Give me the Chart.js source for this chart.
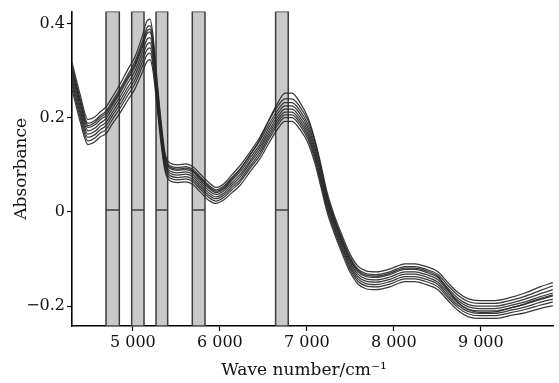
<!DOCTYPE html>
<html>
<head>
<meta charset="utf-8">
<script src="https://cdn.jsdelivr.net/npm/chart.js@4.4.1/dist/chart.umd.min.js"></script>
<style>
  html, body { margin: 0; padding: 0; background: #ffffff; }
  #c { display: block; }
</style>
</head>
<body>
<canvas id="c" width="559" height="383"></canvas>
<script>
// ---- data ----
const waveNumbers = [4300,4392,4484,4564,4622,4691,4771,4852,4944,5024,5105,5162,5197,5231,5277,5323,5369,5426,5518,5610,5691,5771,5863,5955,6047,6139,6231,6346,6461,6576,6668,6748,6829,6921,7013,7093,7151,7231,7311,7403,7495,7587,7679,7794,7955,8127,8242,8357,8507,8622,8737,8852,8990,9162,9334,9507,9679,9828];

const spectrum1 = [.260,.193,.143,.149,.159,.166,.189,.210,.238,.261,.295,.319,.323,.299,.225,.146,.087,.066,.062,.064,.058,.043,.026,.018,.026,.041,.056,.085,.113,.150,.177,.192,.192,.175,.146,.103,.061,.001,-.043,-.087,-.127,-.153,-.163,-.165,-.159,-.148,-.148,-.153,-.165,-.188,-.209,-.222,-.226,-.226,-.220,-.214,-.205,-.199];
const spectrum2 = [.269,.202,.151,.157,.167,.175,.198,.220,.248,.272,.307,.333,.337,.311,.234,.154,.093,.072,.068,.070,.064,.049,.032,.023,.031,.047,.063,.092,.120,.158,.185,.200,.200,.183,.154,.111,.069,.008,-.037,-.081,-.121,-.147,-.157,-.159,-.153,-.142,-.142,-.147,-.159,-.182,-.203,-.216,-.220,-.220,-.214,-.207,-.198,-.191];
const spectrum3 = [.277,.210,.158,.164,.174,.183,.206,.228,.257,.281,.317,.344,.348,.321,.242,.160,.098,.077,.073,.075,.069,.054,.037,.028,.036,.052,.068,.097,.126,.164,.191,.206,.206,.189,.160,.117,.075,.013,-.032,-.076,-.116,-.142,-.152,-.154,-.148,-.137,-.137,-.142,-.154,-.177,-.198,-.211,-.215,-.215,-.209,-.202,-.192,-.185];
const spectrum4 = [.284,.217,.165,.171,.181,.190,.213,.236,.265,.290,.327,.355,.359,.331,.249,.166,.103,.082,.078,.080,.074,.059,.042,.032,.040,.057,.074,.103,.132,.170,.197,.212,.212,.195,.166,.123,.081,.019,-.027,-.071,-.111,-.137,-.147,-.149,-.143,-.132,-.132,-.137,-.149,-.172,-.193,-.206,-.210,-.210,-.204,-.196,-.186,-.178];
const spectrum5 = [.292,.225,.172,.178,.188,.198,.221,.244,.274,.299,.337,.366,.370,.341,.257,.172,.108,.087,.083,.085,.079,.064,.047,.037,.045,.062,.079,.108,.138,.176,.203,.218,.218,.201,.172,.129,.087,.024,-.022,-.066,-.106,-.132,-.142,-.144,-.138,-.127,-.127,-.132,-.144,-.167,-.188,-.201,-.205,-.205,-.199,-.191,-.180,-.172];
const spectrum6 = [.299,.232,.179,.185,.195,.205,.228,.252,.282,.308,.347,.378,.382,.351,.264,.179,.113,.092,.088,.090,.084,.069,.052,.041,.049,.067,.085,.114,.144,.183,.210,.225,.225,.208,.179,.136,.094,.030,-.017,-.061,-.101,-.127,-.137,-.139,-.133,-.122,-.122,-.127,-.139,-.162,-.183,-.196,-.200,-.200,-.194,-.185,-.174,-.165];
const spectrum7 = [.308,.241,.188,.194,.204,.214,.237,.261,.292,.319,.359,.391,.395,.363,.273,.186,.119,.098,.094,.096,.090,.075,.058,.047,.055,.073,.091,.120,.151,.190,.217,.232,.232,.215,.186,.143,.101,.036,-.011,-.055,-.095,-.121,-.131,-.133,-.127,-.116,-.116,-.121,-.133,-.156,-.177,-.190,-.194,-.194,-.188,-.179,-.167,-.157];
const spectrum8 = [.317,.250,.196,.202,.212,.223,.246,.271,.303,.329,.371,.405,.409,.375,.282,.194,.125,.104,.100,.102,.096,.081,.064,.052,.060,.079,.098,.127,.159,.198,.225,.240,.240,.223,.194,.151,.109,.043,-.005,-.049,-.089,-.115,-.125,-.127,-.121,-.110,-.110,-.115,-.127,-.150,-.171,-.184,-.188,-.188,-.182,-.172,-.159,-.150];
const spectrum9 = [.302,.236,.183,.190,.200,.210,.232,.256,.287,.313,.352,.384,.388,.357,.268,.182,.116,.095,.091,.093,.087,.072,.055,.044,.052,.070,.090,.121,.154,.200,.232,.252,.252,.232,.200,.152,.104,.034,-.014,-.060,-.100,-.124,-.134,-.136,-.130,-.119,-.119,-.124,-.137,-.165,-.192,-.207,-.213,-.212,-.204,-.195,-.184,-.176];
const spectra = [spectrum1, spectrum2, spectrum3, spectrum4, spectrum5, spectrum6, spectrum7, spectrum8, spectrum9];

// selected wavenumber intervals (shaded bands)
const intervalStarts = [4691, 4986, 5266, 5683, 6641];
const intervalEnds   = [4844, 5128, 5400, 5829, 6786];

// axis ticks
const xTickValues = [5000, 6000, 7000, 8000, 9000];
const xTickLabels = ['5 000', '6 000', '7 000', '8 000', '9 000'];
const yTickValues = [-0.2, 0, 0.2, 0.4];
const yTickLabels = ['\u22120.2', '0', '0.2', '0.4'];

const X_MIN = 4300, X_MAX = 9830;
const Y_MIN = -0.242, Y_MAX = 0.425;

// ---- datasets ----
const datasets = [];
spectra.forEach((s) => {
  datasets.push({
    data: waveNumbers.map((w, i) => ({ x: w, y: s[i] })),
    showLine: true,
    borderColor: 'rgba(40,40,40,0.92)',
    borderWidth: 1.25,
    pointRadius: 0,
    cubicInterpolationMode: 'monotone',
    fill: false,
    order: 0
  });
});
intervalStarts.forEach((x0, k) => {
  const x1 = intervalEnds[k];
  datasets.push({
    data: [{x: x0, y: Y_MIN}, {x: x0, y: Y_MAX}, {x: x1, y: Y_MAX}, {x: x1, y: Y_MIN}, {x: x0, y: Y_MIN}],
    showLine: true,
    borderColor: '#3c3c3c',
    borderWidth: 1.5,
    backgroundColor: '#c9c9c9',
    pointRadius: 0,
    tension: 0,
    fill: 'shape',
    order: 2
  });
  datasets.push({
    data: [{x: x0, y: 0.004}, {x: x1, y: 0.004}],
    showLine: true,
    borderColor: '#3c3c3c',
    borderWidth: 1.4,
    pointRadius: 0,
    fill: false,
    order: 1
  });
});

const tickFont = { family: 'DejaVu Serif', size: 16 };

new Chart(document.getElementById('c'), {
  type: 'scatter',
  data: { datasets },
  options: {
    responsive: false,
    animation: false,
    devicePixelRatio: 1,
    layout: { padding: { left: 0, right: 6, top: 9, bottom: 0 } },
    plugins: { legend: { display: false }, tooltip: { enabled: false } },
    scales: {
      x: {
        type: 'linear',
        min: X_MIN, max: X_MAX,
        afterBuildTicks: (s) => { s.ticks = xTickValues.map(v => ({ value: v })); },
        afterFit: (s) => { s.height = 57; },
        ticks: {
          color: '#111',
          font: tickFont,
          padding: 2,
          maxRotation: 0,
          autoSkip: false,
          callback: (v) => xTickLabels[xTickValues.indexOf(v)]
        },
        grid: { drawOnChartArea: false, color: '#000', tickLength: 5, tickWidth: 1.2 },
        border: { color: '#000', width: 1.6 },
        title: {
          display: true,
          text: 'Wave number/cm\u207B\u00B9\u2002\u2002',
          color: '#111',
          font: { family: 'DejaVu Serif', size: 17 },
          padding: { top: 0, bottom: 2 }
        }
      },
      y: {
        type: 'linear',
        min: Y_MIN, max: Y_MAX,
        afterBuildTicks: (s) => { s.ticks = yTickValues.map(v => ({ value: v })); },
        afterFit: (s) => { s.width = 72; },
        ticks: {
          color: '#111',
          font: tickFont,
          padding: 2,
          autoSkip: false,
          callback: (v) => {
            const i = yTickValues.findIndex(t => Math.abs(t - v) < 1e-9);
            return i >= 0 ? yTickLabels[i] : '';
          }
        },
        grid: { drawOnChartArea: false, color: '#000', tickLength: 5, tickWidth: 1.2 },
        border: { color: '#000', width: 1.6 },
        title: {
          display: true,
          text: 'Absorbance',
          color: '#111',
          font: { family: 'DejaVu Serif', size: 17 },
          padding: { top: 11, bottom: 0 }
        }
      }
    }
  }
});
</script>
</body>
</html>
